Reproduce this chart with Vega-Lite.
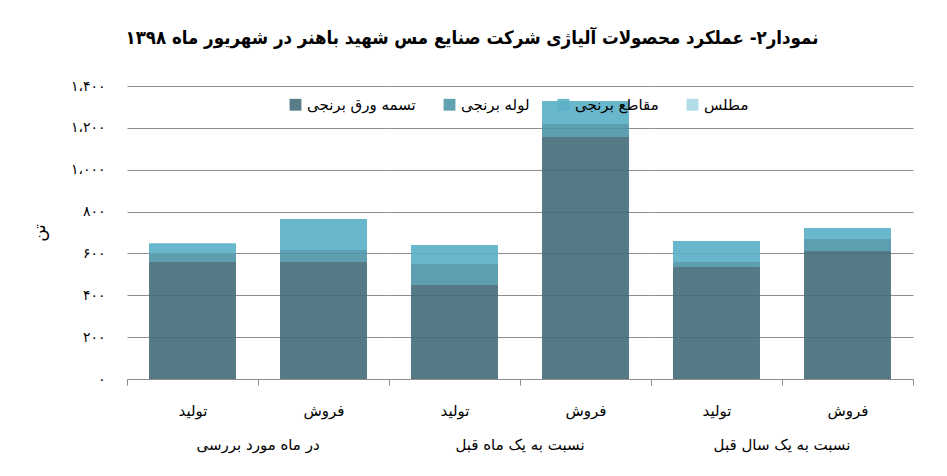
{
  "$schema": "https://vega.github.io/schema/vega-lite/v6.json",
  "background": "white",
  "padding": {"left": 30, "top": 28, "right": 30, "bottom": 10},
  "title": {
    "text": "نمودار۲- عملکرد محصولات آلیاژی شرکت صنایع مس شهید باهنر در شهریور ماه ۱۳۹۸",
    "font": "DejaVu Sans Condensed",
    "fontSize": 18.5,
    "fontWeight": "bold",
    "color": "black",
    "anchor": "middle",
    "offset": 32
  },
  "data": {
    "values": [
      {"bar": "1", "group": "در ماه مورد بررسی", "category": "تولید", "product": "تسمه ورق برنجی", "value": 559},
      {"bar": "1", "group": "در ماه مورد بررسی", "category": "تولید", "product": "لوله برنجی", "value": 41},
      {"bar": "1", "group": "در ماه مورد بررسی", "category": "تولید", "product": "مقاطع برنجی", "value": 49},
      {"bar": "1", "group": "در ماه مورد بررسی", "category": "تولید", "product": "مطلس", "value": 0},
      {"bar": "2", "group": "در ماه مورد بررسی", "category": "فروش", "product": "تسمه ورق برنجی", "value": 559},
      {"bar": "2", "group": "در ماه مورد بررسی", "category": "فروش", "product": "لوله برنجی", "value": 57},
      {"bar": "2", "group": "در ماه مورد بررسی", "category": "فروش", "product": "مقاطع برنجی", "value": 148},
      {"bar": "2", "group": "در ماه مورد بررسی", "category": "فروش", "product": "مطلس", "value": 0},
      {"bar": "3", "group": "نسبت به یک ماه قبل", "category": "تولید", "product": "تسمه ورق برنجی", "value": 449},
      {"bar": "3", "group": "نسبت به یک ماه قبل", "category": "تولید", "product": "لوله برنجی", "value": 100},
      {"bar": "3", "group": "نسبت به یک ماه قبل", "category": "تولید", "product": "مقاطع برنجی", "value": 91},
      {"bar": "3", "group": "نسبت به یک ماه قبل", "category": "تولید", "product": "مطلس", "value": 0},
      {"bar": "4", "group": "نسبت به یک ماه قبل", "category": "فروش", "product": "تسمه ورق برنجی", "value": 1156},
      {"bar": "4", "group": "نسبت به یک ماه قبل", "category": "فروش", "product": "لوله برنجی", "value": 62},
      {"bar": "4", "group": "نسبت به یک ماه قبل", "category": "فروش", "product": "مقاطع برنجی", "value": 110},
      {"bar": "4", "group": "نسبت به یک ماه قبل", "category": "فروش", "product": "مطلس", "value": 0},
      {"bar": "5", "group": "نسبت به یک سال قبل", "category": "تولید", "product": "تسمه ورق برنجی", "value": 535},
      {"bar": "5", "group": "نسبت به یک سال قبل", "category": "تولید", "product": "لوله برنجی", "value": 24},
      {"bar": "5", "group": "نسبت به یک سال قبل", "category": "تولید", "product": "مقاطع برنجی", "value": 100},
      {"bar": "5", "group": "نسبت به یک سال قبل", "category": "تولید", "product": "مطلس", "value": 0},
      {"bar": "6", "group": "نسبت به یک سال قبل", "category": "فروش", "product": "تسمه ورق برنجی", "value": 612},
      {"bar": "6", "group": "نسبت به یک سال قبل", "category": "فروش", "product": "لوله برنجی", "value": 57},
      {"bar": "6", "group": "نسبت به یک سال قبل", "category": "فروش", "product": "مقاطع برنجی", "value": 52},
      {"bar": "6", "group": "نسبت به یک سال قبل", "category": "فروش", "product": "مطلس", "value": 0}
    ]
  },
  "facet": {
    "column": {
      "field": "group",
      "type": "nominal",
      "sort": ["در ماه مورد بررسی", "نسبت به یک ماه قبل", "نسبت به یک سال قبل"],
      "title": null,
      "header": {
        "labelOrient": "bottom",
        "labelFont": "DejaVu Sans",
        "labelFontSize": 15,
        "labelColor": "black",
        "labelPadding": 20
      }
    }
  },
  "spacing": 0,
  "spec": {
    "width": 262,
    "height": 293,
    "mark": {"type": "bar", "width": {"band": 0.664}, "opacity": 0.92},
    "encoding": {
      "x": {
        "field": "category",
        "type": "nominal",
        "sort": ["تولید", "فروش"],
        "scale": {"paddingInner": 0, "paddingOuter": 0},
        "axis": {
          "title": null,
          "labelAngle": 0,
          "labelFont": "DejaVu Sans",
          "labelFontSize": 15,
          "labelColor": "black",
          "labelPadding": 18,
          "tickBand": "extent",
          "tickColor": "#8c8c8c",
          "tickSize": 6,
          "domainColor": "#8c8c8c"
        }
      },
      "y": {
        "field": "value",
        "type": "quantitative",
        "aggregate": "sum",
        "stack": "zero",
        "scale": {"domain": [0, 1400]},
        "axis": {
          "title": "تن",
          "titleFont": "DejaVu Sans",
          "titleFontSize": 17,
          "titleFontWeight": "normal",
          "titleColor": "black",
          "titlePadding": 22,
          "values": [0, 200, 400, 600, 800, 1000, 1200, 1400],
          "labelExpr": "datum.value == 1400 ? '۱،۴۰۰' : datum.value == 1200 ? '۱،۲۰۰' : datum.value == 1000 ? '۱،۰۰۰' : datum.value == 800 ? '۸۰۰' : datum.value == 600 ? '۶۰۰' : datum.value == 400 ? '۴۰۰' : datum.value == 200 ? '۲۰۰' : '۰'",
          "labelFont": "DejaVu Sans",
          "labelFontSize": 14,
          "labelColor": "black",
          "labelPadding": 22,
          "domain": false,
          "ticks": false,
          "gridColor": "#8c8c8c",
          "gridOpacity": 1
        }
      },
      "order": {"field": "product", "sort": "ascending"},
      "color": {
        "field": "product",
        "type": "nominal",
        "scale": {
          "domain": ["تسمه ورق برنجی", "لوله برنجی", "مقاطع برنجی", "مطلس"],
          "range": ["#466f7c", "#4f97aa", "#5cb1c8", "#a9d9e6"]
        },
        "legend": {
          "title": null,
          "orient": "none",
          "direction": "horizontal",
          "legendX": 161,
          "legendY": 11,
          "symbolType": "square",
          "symbolSize": 140,
          "symbolOpacity": 0.9,
          "labelFont": "DejaVu Sans",
          "labelFontSize": 15,
          "labelColor": "black",
          "columnPadding": 26
        }
      }
    }
  },
  "config": {
    "view": {"stroke": null}
  }
}
